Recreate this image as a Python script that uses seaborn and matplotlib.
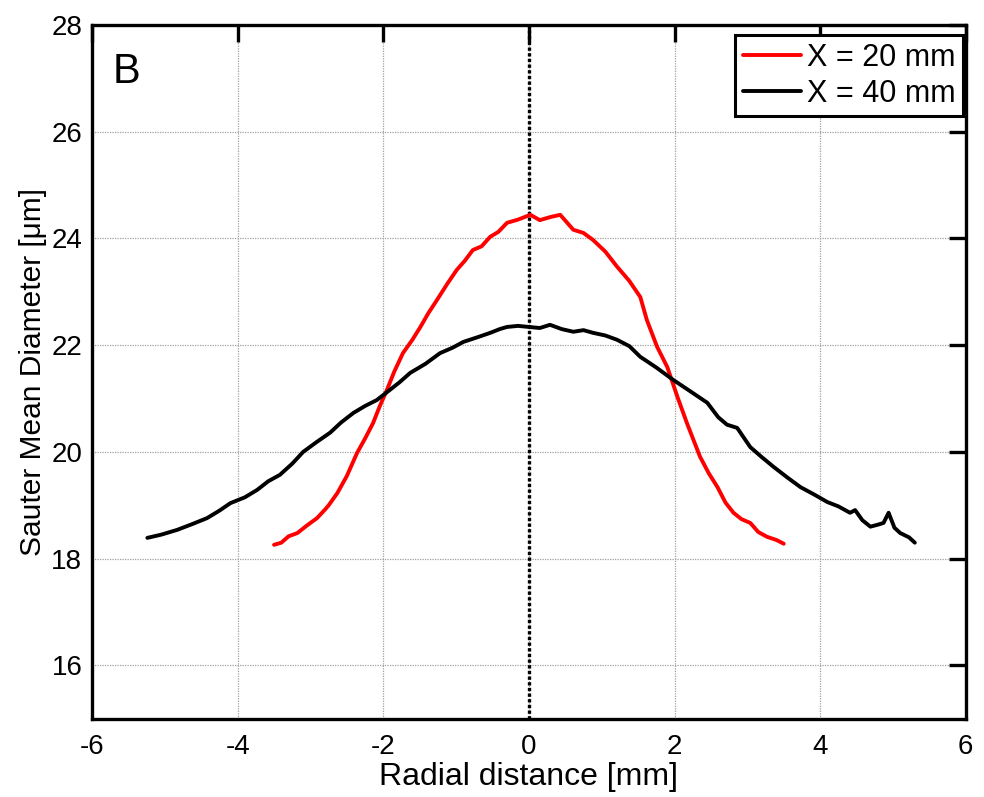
import matplotlib
matplotlib.use("Agg")
import matplotlib.pyplot as plt
import numpy as np
import pandas as pd
import seaborn as sns

# X = 20 mm profile
r20 = [-3.50, -3.40, -3.30, -3.18, -3.05, -2.91, -2.80, -2.75, -2.63, -2.50, -2.36, -2.25, -2.14, -2.05,
       -1.95, -1.85, -1.73, -1.60, -1.49, -1.38, -1.26, -1.12, -0.99, -0.88, -0.77, -0.65,
       -0.53, -0.42, -0.30, -0.15, 0.02, 0.15, 0.30, 0.43, 0.61, 0.75, 0.88, 1.05,
       1.21, 1.38, 1.53, 1.62, 1.76, 1.90, 2.04, 2.17, 2.35, 2.47, 2.59, 2.70, 2.81,
       2.92, 3.04, 3.15, 3.27, 3.40, 3.50]
d20 = [18.26, 18.30, 18.42, 18.48, 18.62, 18.76, 18.92, 19.00, 19.23, 19.55, 19.98, 20.25, 20.54, 20.85,
       21.16, 21.50, 21.85, 22.10, 22.34, 22.60, 22.85, 23.15, 23.41, 23.58, 23.78, 23.85,
       24.03, 24.12, 24.29, 24.35, 24.44, 24.34, 24.40, 24.44, 24.16, 24.10, 23.97, 23.75,
       23.47, 23.20, 22.90, 22.47, 21.97, 21.59, 21.03, 20.54, 19.91, 19.60, 19.34, 19.05, 18.86,
       18.74, 18.67, 18.50, 18.41, 18.35, 18.28]

# X = 40 mm profile
r40 = [-5.24, -5.05, -4.83, -4.62, -4.42, -4.25, -4.10, -3.90, -3.73, -3.58, -3.42, -3.25,
       -3.10, -2.92, -2.73, -2.58, -2.41, -2.25, -2.09, -1.91, -1.78, -1.63, -1.42, -1.22,
       -1.05, -0.90, -0.70, -0.53, -0.40, -0.30, -0.15, 0.00, 0.15, 0.29, 0.45, 0.61,
       0.75, 0.88, 1.05, 1.21, 1.38, 1.53, 1.75, 1.98, 2.20, 2.45, 2.60, 2.72, 2.86,
       3.04, 3.20, 3.36, 3.55, 3.73, 3.92, 4.10, 4.25, 4.41, 4.48, 4.58, 4.69, 4.80,
       4.87, 4.94, 5.02, 5.10, 5.22, 5.30]
d40 = [18.39, 18.45, 18.54, 18.65, 18.76, 18.90, 19.04, 19.15, 19.29, 19.45, 19.57, 19.78,
       20.00, 20.18, 20.36, 20.55, 20.73, 20.86, 20.97, 21.16, 21.30, 21.48, 21.65, 21.85,
       21.95, 22.06, 22.15, 22.23, 22.30, 22.34, 22.36, 22.34, 22.32, 22.38, 22.30, 22.25,
       22.28, 22.23, 22.18, 22.10, 21.98, 21.78, 21.58, 21.35, 21.15, 20.92, 20.65, 20.51, 20.45,
       20.09, 19.90, 19.72, 19.52, 19.34, 19.20, 19.06, 18.98, 18.86, 18.91, 18.72, 18.60, 18.64,
       18.67, 18.86, 18.58, 18.48, 18.40, 18.30]

series_labels = ["X = 20 mm", "X = 40 mm"]
colors = ["#ff0000", "#000000"]
xticks = [-6, -4, -2, 0, 2, 4, 6]
yticks = [16, 18, 20, 22, 24, 26, 28]

df = pd.concat(
    [
        pd.DataFrame({"r": r20, "d": d20, "series": series_labels[0]}),
        pd.DataFrame({"r": r40, "d": d40, "series": series_labels[1]}),
    ],
    ignore_index=True,
)

sns.set_style("white", rc={"text.color": "black", "axes.labelcolor": "black",
                           "xtick.color": "black", "ytick.color": "black",
                           "axes.edgecolor": "black"})
plt.rcParams["font.family"] = ["Liberation Sans", "DejaVu Sans"]
plt.rcParams["axes.unicode_minus"] = False

fig = plt.figure(figsize=(9.84, 7.97), dpi=100, facecolor="white")
ax = fig.add_axes([0.0935, 0.098, 0.888, 0.871])

ax.axvline(0, color="black", linestyle=(0, (1.0, 0.7)), linewidth=2.4, zorder=1)

sns.lineplot(
    data=df, x="r", y="d", hue="series", palette=colors, sort=False,
    estimator=None, linewidth=2.8, ax=ax, zorder=3,
)

ax.set_xlim(-6, 6)
ax.set_ylim(15, 28)
ax.set_xticks(xticks)
ax.set_yticks(yticks)
ax.grid(True, color="#a0a0a0", linestyle=(0, (1, 1)), linewidth=0.9)
ax.tick_params(direction="in", length=12, width=2.4, labelsize=20,
               top=True, right=True, pad=7)
ax.tick_params(axis="x", pad=11)
for s in ax.spines.values():
    s.set_linewidth(2.4)

ax.set_xlabel("Radial distance [mm]", fontsize=23, labelpad=1)
ax.set_ylabel("Sauter Mean Diameter [μm]", fontsize=21.5, labelpad=3)

ax.text(0.024, 0.96, "B", transform=ax.transAxes, fontsize=30, va="top", ha="left")

leg = ax.legend(loc="upper right", bbox_to_anchor=(963 / 984, 1 - 35 / 797),
                bbox_transform=fig.transFigure, borderaxespad=0,
                fontsize=22, frameon=True, fancybox=False,
                edgecolor="black", borderpad=0.25, handlelength=1.9, handletextpad=0.2,
                labelspacing=0.2)
leg.get_frame().set_linewidth(2.2)
leg.get_frame().set_alpha(1)
for h in leg.get_lines():
    h.set_linewidth(2.8)

fig.savefig("out.png", dpi=100, facecolor="white")
